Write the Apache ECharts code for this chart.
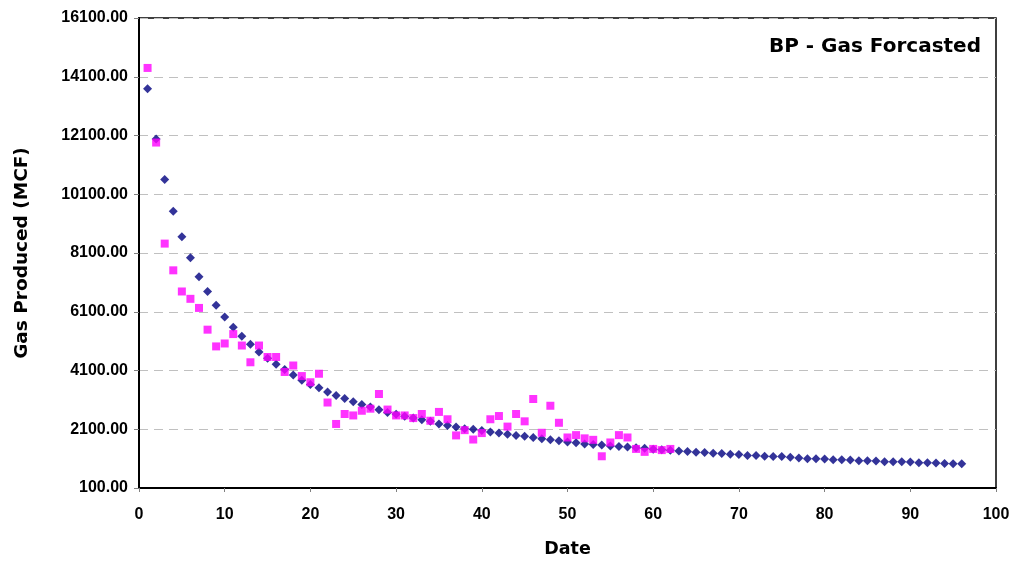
<!DOCTYPE html>
<html>
<head>
<meta charset="utf-8">
<script src="https://cdn.jsdelivr.net/npm/echarts@6/dist/echarts.min.js"></script>
<style>
html,body{margin:0;padding:0;background:#fff;}
#chart{width:1013px;height:563px;}
</style>
</head>
<body>
<div id="chart"></div>
<script>
const titleText = "BP - Gas Forcasted";
const xAxisName = "Date";
const yAxisName = "Gas Produced (MCF)";

// Forecast (navy diamonds), dates 1..96
const forecastValues = [
  13690, 11980, 10600, 9520, 8650, 7940, 7290, 6790, 6320, 5920,
  5570, 5270, 4990, 4730, 4520, 4310, 4130, 3950, 3770, 3620,
  3510, 3370, 3250, 3150, 3040, 2940, 2860, 2760, 2670, 2610,
  2540, 2480, 2420, 2370, 2280, 2230, 2180, 2120, 2100, 2060,
  2010, 1970, 1930, 1890, 1860, 1820, 1780, 1745, 1710, 1670,
  1640, 1600, 1585, 1560, 1530, 1510, 1495, 1470, 1450, 1420,
  1400, 1385, 1360, 1345, 1315, 1310, 1280, 1275, 1245, 1240,
  1210, 1205, 1180, 1175, 1170, 1145, 1120, 1100, 1095, 1090,
  1065, 1060, 1055, 1030, 1025, 1020, 995, 992, 990, 985,
  962, 958, 955, 930, 927, 925
];

// Actual (magenta squares), dates 1..62
const actualValues = [
  14400, 11860, 8420, 7510, 6790, 6540, 6230, 5490, 4920, 5020,
  5340, 4950, 4380, 4950, 4560, 4560, 4050, 4270, 3910, 3700,
  3990, 3010, 2280, 2620, 2570, 2730, 2800, 3300, 2770, 2570,
  2570, 2480, 2620, 2390, 2690, 2440, 1890, 2070, 1750, 1970,
  2440, 2550, 2190, 2620, 2370, 3130, 1980, 2900, 2320, 1820,
  1900, 1790, 1740, 1180, 1650, 1900, 1820, 1430, 1330, 1430,
  1390, 1430
];

const forecastData = forecastValues.map((v, i) => [i + 1, v]);
const actualData = actualValues.map((v, i) => [i + 1, v]);

const FONT = "'Liberation Sans', Arial, sans-serif";
const WIDE = "'DejaVu Sans', 'Liberation Sans', sans-serif";
const chart = echarts.init(document.getElementById('chart'), null, {renderer: 'canvas'});
chart.setOption({
  animation: false,
  backgroundColor: '#ffffff',
  title: {
    text: titleText,
    right: 27, top: 32,
    textStyle: {fontFamily: WIDE, fontWeight: 'bold', fontSize: 20, color: '#000'}
  },
  grid: {
    left: 139, right: 17, top: 18, bottom: 75,
    show: true, borderColor: '#000', borderWidth: 1.5, backgroundColor: 'transparent'
  },
  xAxis: {
    type: 'value', min: 0, max: 100, interval: 10,
    name: xAxisName, nameLocation: 'middle', nameGap: 52,
    nameTextStyle: {fontFamily: WIDE, fontWeight: 'bold', fontSize: 17.5, color: '#000'},
    axisLine: {show: true, onZero: false, lineStyle: {color: '#000', width: 2}},
    axisTick: {show: true, inside: false, length: 4, lineStyle: {color: '#808080', width: 1}},
    axisLabel: {margin: 19, fontFamily: FONT, fontWeight: 'bold', fontSize: 16, color: '#000'},
    splitLine: {show: false}
  },
  yAxis: {
    type: 'value', min: 100, max: 16100, interval: 2000,
    name: yAxisName, nameLocation: 'middle', nameGap: 107, nameRotate: 90,
    nameTextStyle: {fontFamily: WIDE, fontWeight: 'bold', fontSize: 18.5, color: '#000'},
    axisLine: {show: true, onZero: false, lineStyle: {color: '#000', width: 2}},
    axisTick: {show: true, inside: false, length: 5, lineStyle: {color: '#808080', width: 1}},
    axisLabel: {margin: 11, fontFamily: FONT, fontWeight: 'bold', fontSize: 16, color: '#000',
      formatter: v => v.toFixed(2)},
    splitLine: {show: true, lineStyle: {color: '#c0c0c0', width: 1, type: [9, 6]}}
  },
  series: [
    {
      name: 'Forecast', type: 'scatter', data: forecastData,
      symbol: 'diamond', symbolSize: [9, 9],
      itemStyle: {color: '#000080'}
    },
    {
      name: 'Actual', type: 'scatter', data: actualData,
      symbol: 'rect', symbolSize: 8,
      itemStyle: {color: '#ff00ff'}
    }
  ]
});
</script>
</body>
</html>
